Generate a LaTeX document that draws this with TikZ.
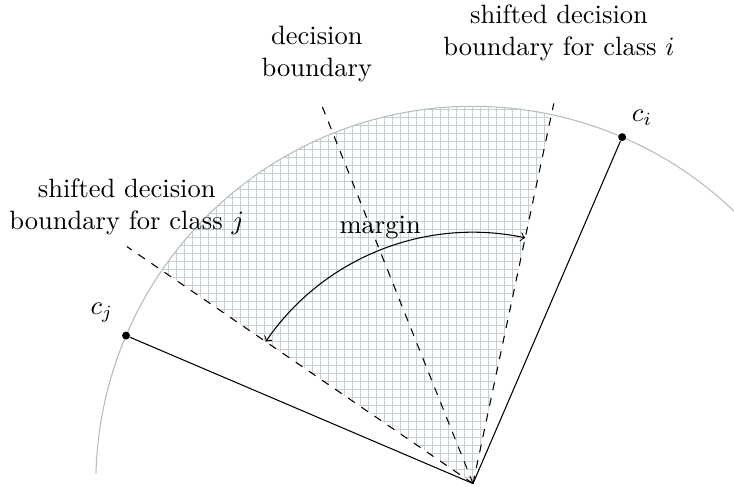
\documentclass[tikz,border=0pt]{standalone}

\definecolor{gridblue}{RGB}{196,208,208}
\definecolor{arcgray}{RGB}{178,190,190}

\begin{document}
\begin{tikzpicture}[
  gridline/.style={
    draw=gridblue,
    line width=0.4pt
  },
  dot/.style={
    circle,
    fill=black,
    inner sep=0pt,
    minimum size=3pt
  },
  boundary/.style={
    draw=black,
    dashed
  },
  textbox/.style={
    align=center,
    inner sep=0pt
  }
]
\useasboundingbox (-6.27,-0.04) rectangle (3.46,6.41);

\coordinate (o) at (0,0);

% margin region between the shifted boundaries
\begin{scope}
  \clip (o) -- (78:5) arc[start angle=78, end angle=145.6, radius=5] -- cycle;
  \begin{scope}[shift={(-6.2634,-0.0258)}]
    \draw[gridline] (0,0) grid[step=0.10605] (9.8,6.5);
  \end{scope}
\end{scope}

% unit circle
\draw[arcgray] (30:5) arc[start angle=30, end angle=178.5, radius=5];

% class centres
\node[dot] (ci) at (66.7:5) {};
\node[dot] (cj) at (156.9:5) {};
\node (ciname) at (2.24,4.85) {$c_i$};
\node (cjname) at (-4.92,2.27) {$c_j$};
\draw (o) -- (ci);
\draw (o) -- (cj);

% boundaries
\coordinate (bd) at (111.8:5.39);
\coordinate (bi) at (78:5.15);
\coordinate (bj) at (145.6:5.56);
\draw[boundary] (o) -- (bd);
\draw[boundary] (o) -- (bi);
\draw[boundary] (o) -- (bj);

\node[textbox] (bdname) at (-2.07,5.69) {decision\\boundary};
\node[textbox] (biname) at (1.14,5.97) {shifted decision\\boundary for class $i$};
\node[textbox] (bjname) at (-4.59,3.67) {shifted decision\\boundary for class $j$};

% margin
\coordinate (mi) at (78:3.33);
\draw[<->] (mi) arc[start angle=78, end angle=145.6, radius=3.33];
\node (mname) at (-1.23,3.40) {margin};

\end{tikzpicture}
\end{document}
